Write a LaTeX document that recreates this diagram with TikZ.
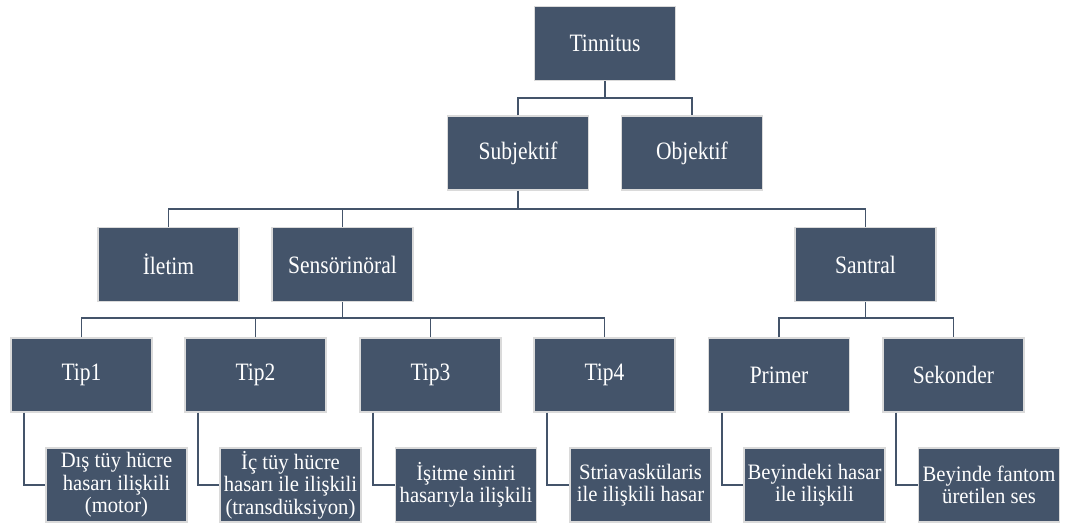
\documentclass[tikz,border=0pt]{standalone}
\usepackage{fontspec}
\setmainfont{Liberation Serif}
\definecolor{boxfill}{HTML}{44546A}
\definecolor{boxedge}{HTML}{DADADA}
\begin{document}
\begin{tikzpicture}[x=1pt,y=-1pt,
  box/.style={rectangle, fill=boxfill, draw=boxedge, line width=1.4pt,
    minimum width=141pt, minimum height=74pt, inner sep=0pt,
    text=white, font=\fontsize{25}{27}\selectfont, align=center},
  leaf/.style={box, font=\fontsize{22}{22.5}\selectfont},
  conn/.style={draw=boxfill, line width=1.8pt}]
\useasboundingbox (0,0) rectangle (1065,525);
\newcommand{\sx}[1]{\scalebox{0.86}[1]{#1}}
\newcommand{\lx}[1]{\scalebox{0.94}[1]{#1}}
% level 0-2
\node[box] (tin) at (605,43.5) {\sx{Tinnitus}};
\node[box] (subj) at (518,153) {\sx{Subjektif}};
\node[box] (obj) at (692,153) {\sx{Objektif}};
\node[box] (ilet) at (168.5,264.5) {\sx{İletim}};
\node[box] (sens) at (342.5,264.5) {\sx{Sensörinöral}};
\node[box] (sant) at (865.5,264.5) {\sx{Santral}};
% level 3
\node[box] (tip1) at (81.5,375) {\sx{Tip1}};
\node[box] (tip2) at (255.5,375) {\sx{Tip2}};
\node[box] (tip3) at (430.5,375) {\sx{Tip3}};
\node[box] (tip4) at (604.5,375) {\sx{Tip4}};
\node[box] (prim) at (779,375) {\sx{Primer}};
\node[box] (seko) at (953.5,375) {\sx{Sekonder}};
% leaves
\node[leaf] (c1) at (116.5,485) {\lx{Dış tüy hücre}\\\lx{hasarı ilişkili}\\\lx{(motor)}};
\node[leaf] (c2) at (290.5,485) {\lx{İç tüy hücre}\\\lx{hasarı ile ilişkili}\\\lx{(transdüksiyon)}};
\node[leaf] (c3) at (466,485) {\lx{İşitme siniri}\\\lx{hasarıyla ilişkili}};
\node[leaf] (c4) at (640.5,485) {\lx{Striavaskülaris}\\\lx{ile ilişkili hasar}};
\node[leaf] (c5) at (814.5,485) {\lx{Beyindeki hasar}\\\lx{ile ilişkili}};
\node[leaf] (c6) at (989,485) {\lx{Beyinde fantom}\\\lx{üretilen ses}};
% bus levels
\coordinate (b1) at (0,98);
\coordinate (b2) at (0,209);
\coordinate (b3) at (0,318);
% connectors
\draw[conn] (tin.south) -- (tin.south |- b1);
\draw[conn] (subj.north) |- (b1 -| tin.south) -| (obj.north);
\draw[conn] (subj.south) -- (subj.south |- b2);
\draw[conn] (ilet.north) |- (b2 -| sens.north) -- (sens.north);
\draw[conn] (sens.north |- b2) -| (sant.north);
\draw[conn] (sens.south) -- (sens.south |- b3);
\draw[conn] (tip1.north) |- (b3 -| tip4.north) -- (tip4.north);
\draw[conn] (tip2.north) -- (tip2.north |- b3);
\draw[conn] (tip3.north) -- (tip3.north |- b3);
\draw[conn] (sant.south) -- (sant.south |- b3);
\draw[conn] (prim.north) |- (b3 -| seko.north) -- (seko.north);
\foreach \p/\c in {tip1/c1,tip2/c2,tip3/c3,tip4/c4,prim/c5,seko/c6}{
  \draw[conn] ([xshift=14pt]\p.south west) |- (\c.west);
}
\end{tikzpicture}
\end{document}
